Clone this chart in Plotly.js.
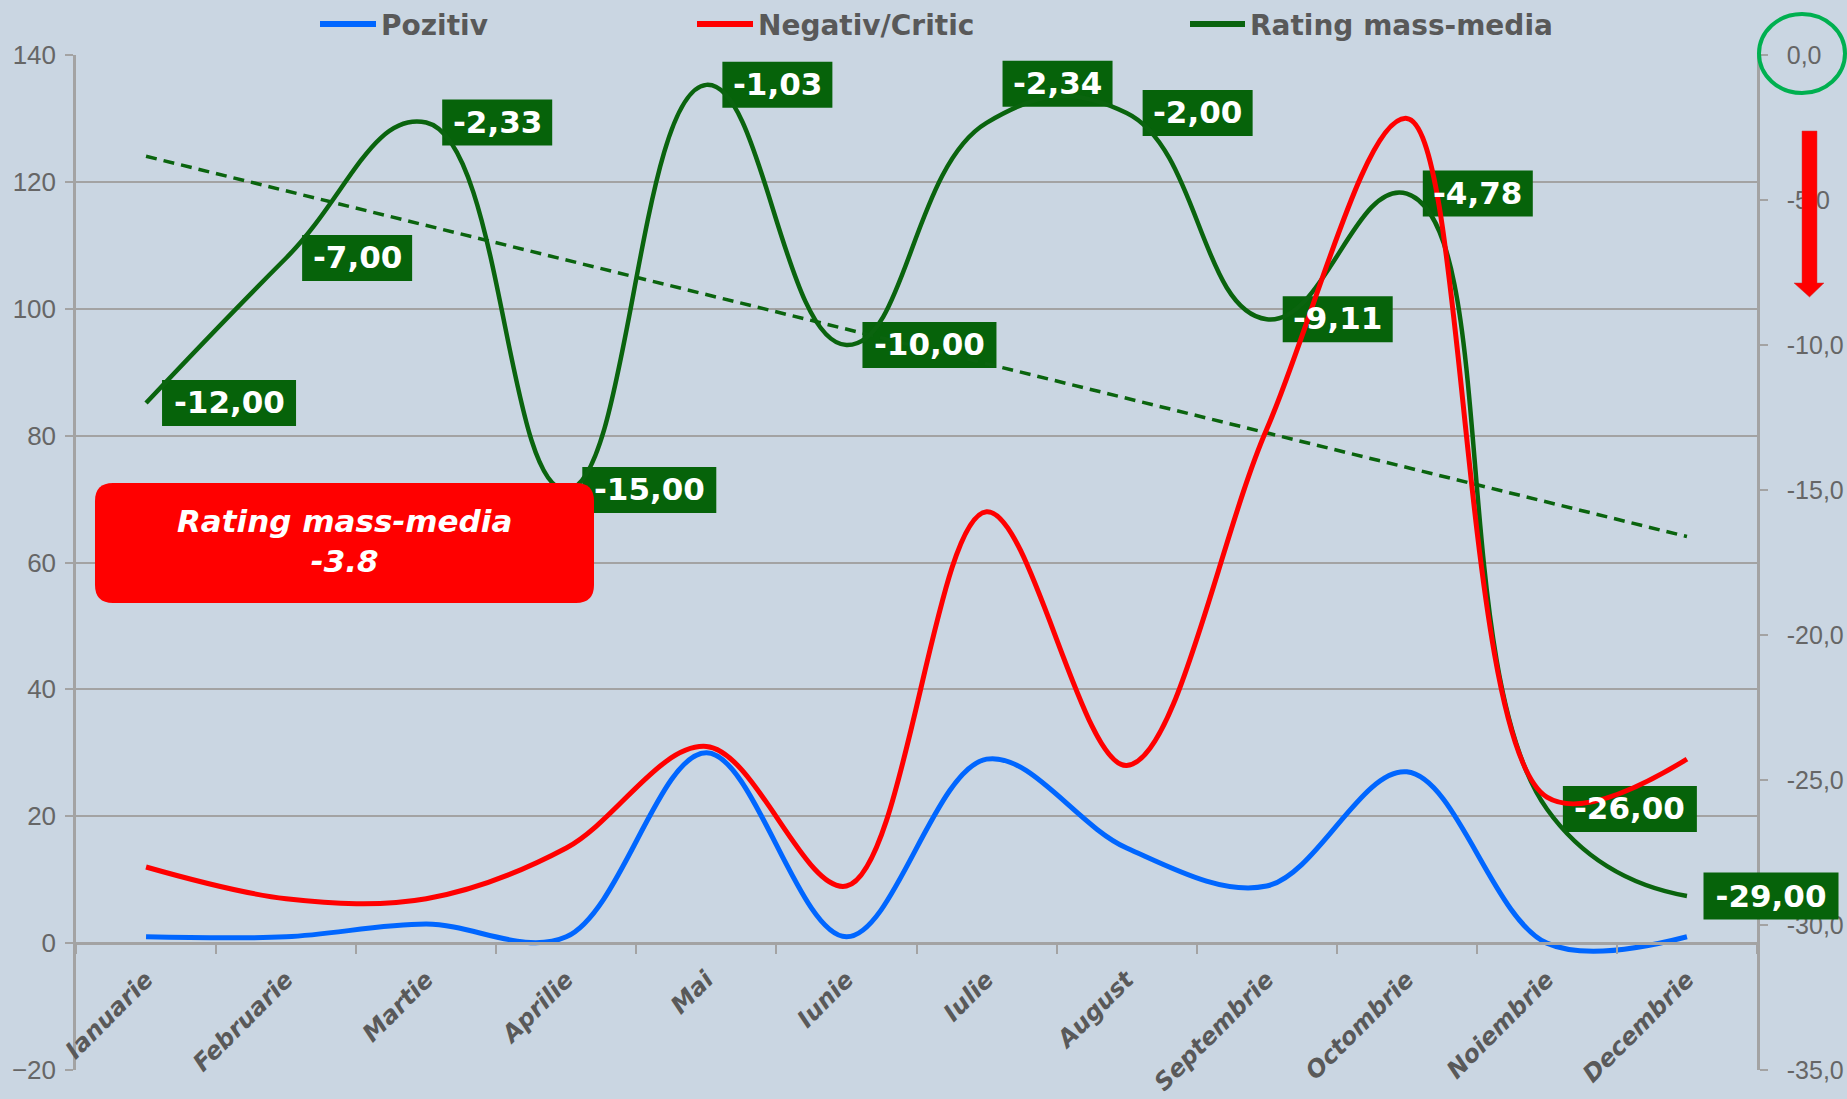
<!DOCTYPE html>
<html><head><meta charset="utf-8">
<script src="https://cdn.plot.ly/plotly-3.0.1.min.js"></script>
<style>html,body{margin:0;padding:0;background:#cad6e2;overflow:hidden;} #chart{width:1847px;height:1099px;}</style>
</head><body><div id="chart"></div>
<script>
// ---------- data ----------
const months = ['Ianuarie','Februarie','Martie','Aprilie','Mai','Iunie','Iulie','August','Septembrie','Octombrie','Noiembrie','Decembrie'];
const pozitiv = [1, 1, 3, 1, 30, 1, 29, 15, 9, 27, 0, 1];
const negativ = [12, 7, 7, 15, 31, 9, 68, 28, 81, 130, 23, 29];
const rating = [-12, -7, -2.33, -15, -1.03, -10, -2.34, -2, -9.11, -4.78, -26, -29];
const ratingLabels = ['-12,00','-7,00','-2,33','-15,00','-1,03','-10,00','-2,34','-2,00','-9,11','-4,78','-26,00','-29,00'];
const leftTickVals = [-20, 0, 20, 40, 60, 80, 100, 120, 140];
const rightTickVals = [-35, -30, -25, -20, -15, -10, -5, 0];
const rightTickText = ['-35,0','-30,0','-25,0','-20,0','-15,0','-10,0','-5,0','0,0'];
const seriesNames = ['Pozitiv', 'Negativ/Critic', 'Rating mass-media'];
const summaryTitle = 'Rating mass-media';
const summaryValue = '-3.8';

// ---------- layout helpers ----------
const W = 1847, H = 1099;
const M = {l: 76, r: 90, t: 55, b: 29};
const PW = W - M.l - M.r, PH = H - M.t - M.b;
const px = X => (X - M.l) / PW;
const py = Y => (H - M.b - Y) / PH;

const colBlue = '#0066ff', colRed = '#ff0000', colGreen = '#0a640e', colBox = '#06630a';
const textGray = '#595959', axisGray = '#a3a3a3';

// linear trend of rating
const n = rating.length;
const xs = rating.map((_, i) => i + 1);
const mx = xs.reduce((a, b) => a + b, 0) / n;
const my = rating.reduce((a, b) => a + b, 0) / n;
let sxy = 0, sxx = 0;
for (let i = 0; i < n; i++) { sxy += (xs[i] - mx) * (rating[i] - my); sxx += (xs[i] - mx) ** 2; }
const slope = sxy / sxx, icpt = my - slope * mx;
const trend = xs.map(x => icpt + slope * x);

// rating (right scale) lives on the main y axis; counts (left scale) on the overlaying y2
const traces = [
  {x: months, y: trend, name: 'trend', type: 'scatter', mode: 'lines',
   line: {color: colGreen, width: 3.5, dash: '11px,7px'}, yaxis: 'y'},
  {x: months, y: rating, name: seriesNames[2], type: 'scatter', mode: 'lines',
   line: {color: colGreen, width: 4.5, shape: 'spline', smoothing: 1.3}, yaxis: 'y'},
  {x: months, y: pozitiv, name: seriesNames[0], type: 'scatter', mode: 'lines',
   line: {color: colBlue, width: 5, shape: 'spline', smoothing: 1}, yaxis: 'y2'},
  {x: months, y: negativ, name: seriesNames[1], type: 'scatter', mode: 'lines',
   line: {color: colRed, width: 5, shape: 'spline', smoothing: 1}, yaxis: 'y2'}
];

const annotations = [];
const shapes = [];
rating.forEach((v, i) => {
  const boxW = ratingLabels[i].length * 24 - 10;  // 134 / 110 px
  const ys = (i === 6 ? 39 : 0);
  const font = {family: 'DejaVu Sans', size: 31, color: '#ffffff', weight: 'bold'};
  if (i === n - 1) {
    // last box sticks out past the plot area: draw it as an annotation box (not clipped)
    annotations.push({
      x: months[i], y: v, xref: 'x', yref: 'y', text: ratingLabels[i], showarrow: false,
      xanchor: 'left', yanchor: 'middle', xshift: 16, yshift: ys,
      bgcolor: colBox, borderpad: 5, width: boxW - 10, height: 36, font: font
    });
    return;
  }
  shapes.push({
    type: 'rect', xref: 'x', yref: 'y', layer: 'between',
    xsizemode: 'pixel', ysizemode: 'pixel', xanchor: i, yanchor: v,
    x0: 16, x1: 16 + boxW, y0: ys - 23, y1: ys + 23,
    fillcolor: colBox, line: {width: 0}
  });
  annotations.push({
    x: months[i], y: v, xref: 'x', yref: 'y', text: ratingLabels[i], showarrow: false,
    xanchor: 'center', yanchor: 'middle', xshift: 16 + boxW / 2, yshift: ys + 1, font: font
  });
});

// summary box text
annotations.push({
  xref: 'paper', yref: 'paper', x: px(344), y: py(541), xanchor: 'center', yanchor: 'middle',
  text: summaryTitle + '<br>' + summaryValue, showarrow: false,
  font: {family: 'DejaVu Sans', size: 31, color: '#ffffff', style: 'italic', weight: 'bold'}
});

// manual legend
const legendItems = [
  {x0: 320, x1: 376, color: colBlue, tx: 379},
  {x0: 697, x1: 753, color: colRed, tx: 756},
  {x0: 1190, x1: 1245, color: colGreen, tx: 1248}
];
legendItems.forEach((it, i) => {
  shapes.push({type: 'line', xref: 'paper', yref: 'paper', x0: px(it.x0), x1: px(it.x1), y0: py(24), y1: py(24),
    line: {color: it.color, width: 6}});
  annotations.push({xref: 'paper', yref: 'paper', x: px(it.tx), y: py(25), xanchor: 'left', yanchor: 'middle',
    text: seriesNames[i], showarrow: false,
    font: {family: 'DejaVu Sans', size: 28, color: textGray, weight: 'bold'}});
});

// rounded red box
(function () {
  const x0 = 95, x1 = 594, y0 = 483, y1 = 603, r = 18;
  const P = (X, Y) => px(X).toFixed(5) + ',' + py(Y).toFixed(5);
  const path = 'M' + P(x0 + r, y0) + ' L' + P(x1 - r, y0) + ' Q' + P(x1, y0) + ' ' + P(x1, y0 + r) +
    ' L' + P(x1, y1 - r) + ' Q' + P(x1, y1) + ' ' + P(x1 - r, y1) +
    ' L' + P(x0 + r, y1) + ' Q' + P(x0, y1) + ' ' + P(x0, y1 - r) +
    ' L' + P(x0, y0 + r) + ' Q' + P(x0, y0) + ' ' + P(x0 + r, y0) + ' Z';
  shapes.push({type: 'path', xref: 'paper', yref: 'paper', path: path, fillcolor: '#ff0000', line: {width: 0}, layer: 'above'});
})();

// green ellipse around 0,0
shapes.push({type: 'circle', xref: 'paper', yref: 'paper', x0: px(1759), x1: px(1845), y0: py(93), y1: py(14),
  line: {color: '#00b050', width: 4}});

// red arrow
(function () {
  const P = (X, Y) => px(X).toFixed(5) + ',' + py(Y).toFixed(5);
  const path = 'M' + P(1802, 131) + ' L' + P(1817, 131) + ' L' + P(1817, 283) + ' L' + P(1824, 283) +
    ' L' + P(1809.5, 297) + ' L' + P(1794, 283) + ' L' + P(1802, 283) + ' Z';
  shapes.push({type: 'path', xref: 'paper', yref: 'paper', path: path, fillcolor: '#ff0000', line: {color: '#c04040', width: 0.5}});
})();

const layout = {
  width: W, height: H,
  margin: M,
  paper_bgcolor: '#cad6e2', plot_bgcolor: '#cad6e2',
  showlegend: false,
  xaxis: {
    type: 'category', range: [-0.5, 11.5], anchor: 'free', position: 0.125,
    showline: true, linecolor: axisGray, linewidth: 2.5,
    ticks: 'outside', ticklen: 9, tickcolor: axisGray, tickwidth: 2, tickson: 'boundaries',
    tickangle: -45, ticklabelstandoff: 11,
    tickfont: {family: 'DejaVu Sans', size: 24, color: textGray, weight: 'bold', style: 'italic'},
    showgrid: false, zeroline: false
  },
  yaxis: {
    range: [-35, 0], side: 'right', tickvals: rightTickVals, ticktext: rightTickText,
    showgrid: false, zeroline: false, showline: true, linecolor: axisGray, linewidth: 2.5,
    ticks: 'outside', ticklen: 8, tickcolor: axisGray, tickwidth: 2, ticklabelstandoff: 14,
    tickfont: {family: 'Liberation Sans', size: 25, color: '#666666'}
  },
  yaxis2: {
    range: [-20, 140], overlaying: 'y', side: 'left', tickvals: leftTickVals, showgrid: true, gridcolor: axisGray, gridwidth: 2,
    showline: true, linecolor: axisGray, linewidth: 2.5, ticks: 'outside', ticklen: 8, tickcolor: axisGray, tickwidth: 2,
    zeroline: false, ticklabelstandoff: 4,
    tickfont: {family: 'Liberation Sans', size: 26, color: '#666666'}
  },
  shapes: shapes,
  annotations: annotations
};

Plotly.newPlot('chart', traces, layout, {displayModeBar: false, responsive: false});
</script>
</body></html>
